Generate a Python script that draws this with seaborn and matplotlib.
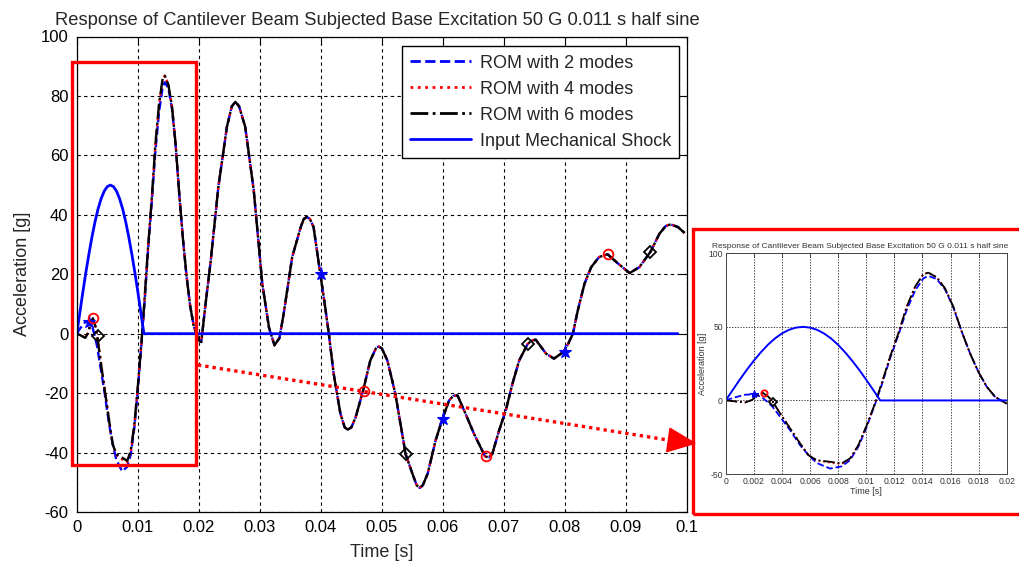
import numpy as np
import pandas as pd
import matplotlib
matplotlib.use("Agg")
import matplotlib.pyplot as plt
import seaborn as sns
from matplotlib.patches import Rectangle, Polygon
from matplotlib.lines import Line2D

# ---------------- data ----------------
# common time base of the beam response [s]
t_head = [0.0, 0.00055, 0.00138, 0.00185, 0.0022, 0.00263, 0.00304, 0.00335,
          0.00387, 0.00458, 0.00529, 0.00588, 0.00648, 0.00743, 0.00826,
          0.00885, 0.00944, 0.01004, 0.01063, 0.0111, 0.0117, 0.01229,
          0.01288, 0.01348, 0.01407, 0.01443, 0.01502, 0.01561, 0.0162]
t_tail = [0.0168, 0.01739, 0.01798, 0.01858, 0.01917, 0.01964, 0.0200, 0.0204,
          0.0211, 0.0219, 0.0232, 0.0246, 0.0254, 0.0260, 0.0266, 0.0276,
          0.0290, 0.0304, 0.0315, 0.0324, 0.0332, 0.0339, 0.0353, 0.0367,
          0.0372, 0.0377, 0.0382, 0.0388, 0.0399, 0.0407, 0.0413, 0.0421,
          0.0432, 0.0439, 0.0444, 0.0450, 0.0457, 0.0469, 0.0481, 0.0490,
          0.0495, 0.0500, 0.0509, 0.0522, 0.0539, 0.0550, 0.0557, 0.0562,
          0.0567, 0.0575, 0.0588, 0.0599, 0.0610, 0.0617, 0.0624, 0.0637,
          0.0651, 0.0669, 0.0675, 0.0681, 0.0692, 0.0703, 0.0714, 0.0725,
          0.0739, 0.0746, 0.0752, 0.0769, 0.0782, 0.0797, 0.0805, 0.0813,
          0.0821, 0.0832, 0.0843, 0.0856, 0.0870, 0.0887, 0.0906, 0.0922,
          0.0940, 0.0955, 0.0965, 0.0973, 0.0985, 0.0996]

# response values [g] in the first part (differs between ROMs)
rom2_head = [0.0, 1.8, 3.9, 4.1, 3.8, 1.7, -1.5, -4.5, -11.1, -20.2, -30.4,
             -37.0, -42.5, -46.3, -44.8, -40.6, -31.5, -17.9, -2.5, 10.4,
             28.6, 44.4, 61.4, 74.6, 83.0, 84.6, 82.5, 75.5, 63.2]
rom4_head = [0.0, -0.5, -1.3, 0.3, 3.0, 5.2, 2.6, -0.8, -8.6, -18.8, -29.0,
             -37.0, -40.8, -42.3, -43.2, -39.6, -30.6, -16.9, -2.1, 11.5,
             29.6, 45.5, 63.6, 77.2, 85.8, 86.8, 83.7, 76.2, 63.7]
rom6_head = [0.0, -0.5, -1.4, 0.2, 2.9, 5.2, 2.5, -0.9, -8.8, -19.0, -29.2,
             -37.2, -40.6, -41.7, -42.8, -39.4, -30.4, -16.8, -2.0, 11.6,
             29.7, 45.6, 63.7, 77.3, 85.9, 86.8, 83.7, 76.2, 63.7]
# response values [g] after t = 0.0165 s (all ROMs coincide)
rom_tail = [46.7, 32.0, 19.5, 9.3, 2.5, -0.2, -2.2, -2.8, 10.0, 23.6, 49.4,
            69.6, 76.5, 78.0, 76.5, 69.6, 48.2, 16.8, 2.0, -3.9, -1.5, 6.7,
            25.8, 35.9, 38.6, 39.3, 38.6, 35.9, 20.2, 9.0, 0.0, -13.5, -26.9,
            -31.5, -32.3, -31.5, -28.1, -19.3, -9.0, -5.0, -4.3, -5.0, -9.0,
            -20.2, -40.6, -47.1, -51.0, -51.9, -51.0, -47.1, -35.9, -28.8,
            -22.5, -20.9, -20.8, -26.9, -33.7, -41.3, -41.6, -40.4, -32.6,
            -25.8, -16.8, -9.0, -3.4, -2.3, -2.0, -6.7, -8.4, -6.2, -3.5, 0.0,
            7.8, 16.8, 22.4, 25.8, 26.7, 23.6, 20.4, 22.4, 27.5, 33.7, 36.2,
            36.8, 35.9, 33.9]

# input mechanical shock (50 G, 0.011 s half sine)
t_input = [0.0, 0.0005, 0.001, 0.0015, 0.002, 0.0025, 0.003, 0.0035, 0.004,
           0.0045, 0.005, 0.0055, 0.006, 0.0065, 0.007, 0.0075, 0.008, 0.0085,
           0.009, 0.0095, 0.010, 0.0105, 0.011, 0.0985]
a_input = [0.0, 7.1, 14.1, 20.8, 27.0, 32.7, 37.8, 42.1, 45.5, 48.0, 49.5,
           50.0, 49.5, 48.0, 45.5, 42.1, 37.8, 32.7, 27.0, 20.8, 14.1, 7.1,
           0.0, 0.0]

# marker positions
star_t = [0.0020, 0.0400, 0.0600, 0.0800]
star_v = [4.1, 20.2, -28.8, -6.2]
circ_t = [0.0027, 0.0470, 0.0670, 0.0870]
circ_v = [5.2, -19.3, -41.3, 26.7]
diam_t = [0.0034, 0.0540, 0.0740, 0.0940]
diam_v = [-0.9, -40.6, -3.4, 27.5]

series_labels = ["ROM with 2 modes", "ROM with 4 modes", "ROM with 6 modes",
                 "Input Mechanical Shock"]
title_text = "Response of Cantilever Beam Subjected Base Excitation 50 G 0.011 s half sine"
x_ticks_main = [0, 0.01, 0.02, 0.03, 0.04, 0.05, 0.06, 0.07, 0.08, 0.09, 0.1]
x_labels_main = ["0", "0.01", "0.02", "0.03", "0.04", "0.05", "0.06", "0.07",
                 "0.08", "0.09", "0.1"]
y_ticks_main = [-60, -40, -20, 0, 20, 40, 60, 80, 100]
x_ticks_inset = [0, 0.002, 0.004, 0.006, 0.008, 0.01, 0.012, 0.014, 0.016,
                 0.018, 0.02]
x_labels_inset = ["0", "0.002", "0.004", "0.006", "0.008", "0.01", "0.012",
                  "0.014", "0.016", "0.018", "0.02"]
y_ticks_inset = [-50, 0, 50, 100]

# ---------------- assemble ----------------
t_resp = t_head + t_tail
df = pd.DataFrame({
    "t": t_resp,
    "rom2": rom2_head + rom_tail,
    "rom4": rom4_head + rom_tail,
    "rom6": rom6_head + rom_tail,
})
df_in = pd.DataFrame({"t": t_input, "a": a_input})

sns.set_theme(style="white")
FONT = ["Liberation Sans", "DejaVu Sans"]
plt.rcParams["font.family"] = FONT

W, H = 1019, 569
fig = plt.figure(figsize=(W / 100, H / 100), dpi=100)
fig.patch.set_facecolor("white")


def fx(px):
    return px / W


def fy(py):
    return 1 - py / H


def draw(ax, lw, lw_in, ms, xmax, label=True):
    sub = df[df["t"] <= xmax + 1e-9]
    sns.lineplot(data=sub, x="t", y="rom2", ax=ax, color="blue", linestyle="--",
                 lw=lw, estimator=None, sort=False,
                 label=series_labels[0] if label else None, legend=False)
    sns.lineplot(data=sub, x="t", y="rom4", ax=ax, color="red", linestyle=":",
                 lw=lw, estimator=None, sort=False,
                 label=series_labels[1] if label else None, legend=False)
    sns.lineplot(data=sub, x="t", y="rom6", ax=ax, color="black", linestyle="-.",
                 lw=lw, estimator=None, sort=False,
                 label=series_labels[2] if label else None, legend=False)
    sub_in = df_in.copy()
    if xmax < 0.05:
        sub_in.loc[sub_in.index[-1], "t"] = xmax
    sns.lineplot(data=sub_in, x="t", y="a", ax=ax, color="blue", linestyle="-",
                 lw=lw_in, estimator=None, sort=False,
                 label=series_labels[3] if label else None, legend=False)
    for tt, vv, mk, col, fill, s in [
        (star_t, star_v, "*", "blue", "blue", ms * 1.35),
        (circ_t, circ_v, "o", "red", "none", ms),
        (diam_t, diam_v, "D", "black", "none", ms * 0.85),
    ]:
        tt = np.array(tt)
        vv = np.array(vv)
        keep = tt <= xmax
        ax.plot(tt[keep], vv[keep], linestyle="none", marker=mk, color=col,
                markerfacecolor=fill, markeredgecolor=col, markersize=s,
                markeredgewidth=1.3 if fill == "none" else 0.8, zorder=5)


# ---------------- main axes ----------------
ax = fig.add_axes([fx(76.8), fy(512), fx(687 - 76.8), (512 - 36.5) / H])
draw(ax, lw=1.7, lw_in=2.0, ms=7, xmax=0.1)
ax.set_xlim(0, 0.1)
ax.set_ylim(-60, 100)
ax.set_xticks(x_ticks_main, labels=x_labels_main)
ax.set_yticks(y_ticks_main, labels=[str(v) for v in y_ticks_main])
ax.tick_params(direction="in", length=5, width=0.8, top=True, right=True,
               labelsize=12, pad=6, colors="black")
ax.grid(True, color="black", linestyle=(0, (3, 3)), linewidth=0.8)
ax.set_axisbelow(True)
for sp in ax.spines.values():
    sp.set_color("black")
    sp.set_linewidth(0.9)
ax.set_xlabel("Time [s]", fontsize=13, labelpad=6)
ax.set_ylabel("Acceleration [g]", fontsize=13, labelpad=7)
ax.set_title(title_text, fontsize=13.2, pad=8, x=0.493)
leg = ax.legend(loc="upper right", bbox_to_anchor=(0.987, 0.979), fontsize=13,
                frameon=True, fancybox=False, edgecolor="black", framealpha=1,
                handlelength=3.4, handletextpad=0.45, labelspacing=0.5,
                borderpad=0.45, borderaxespad=0.0)
leg.get_frame().set_linewidth(1.0)
for ln in leg.get_lines():
    ln.set_linewidth(2.0)

# ---------------- inset axes ----------------
axi = fig.add_axes([fx(725.7), fy(474), fx(1006.7 - 725.7), (474 - 253.3) / H])
draw(axi, lw=1.3, lw_in=1.4, ms=4.5, xmax=0.02, label=False)
axi.set_xlim(0, 0.02)
axi.set_ylim(-50, 100)
axi.set_xticks(x_ticks_inset, labels=x_labels_inset)
axi.set_yticks(y_ticks_inset, labels=[str(v) for v in y_ticks_inset])
axi.tick_params(direction="in", length=3, width=0.6, top=True, right=True,
                labelsize=6.2, pad=2, colors="#333333")
axi.grid(True, color="black", linestyle=(0, (2, 2)), linewidth=0.5)
axi.set_axisbelow(True)
for sp in axi.spines.values():
    sp.set_color("#444444")
    sp.set_linewidth(0.7)
axi.set_xlabel("Time [s]", fontsize=6.5, labelpad=1, color="#333333")
axi.set_ylabel("Acceleration [g]", fontsize=6.5, labelpad=1, color="#333333")
axi.set_title(title_text, fontsize=6.0, pad=4, color="#333333", x=0.48)

# ---------------- annotations (red frames and arrow) ----------------
fig.add_artist(Rectangle((fx(71.7), fy(465)), fx(196 - 71.7), (465 - 62.3) / H,
                         transform=fig.transFigure, fill=False,
                         edgecolor="red", linewidth=2.4, zorder=10))
fig.add_artist(Rectangle((fx(692.7), fy(514.3)), fx(1030 - 692.7),
                         (514.3 - 229.3) / H, transform=fig.transFigure,
                         fill=False, edgecolor="red", linewidth=2.4, zorder=10))
fig.add_artist(Line2D([fx(198), fx(668)], [fy(365), fy(440)],
                      transform=fig.transFigure, color="red", linewidth=2.4,
                      linestyle=(0, (1, 1.2)), zorder=10))
fig.add_artist(Polygon([(fx(695), fy(443.3)), (fx(670), fy(428.3)),
                        (fx(666.7), fy(451.7))], closed=True,
                       transform=fig.transFigure, facecolor="red",
                       edgecolor="red", zorder=10))

fig.savefig("out.png", dpi=100, facecolor="white")
